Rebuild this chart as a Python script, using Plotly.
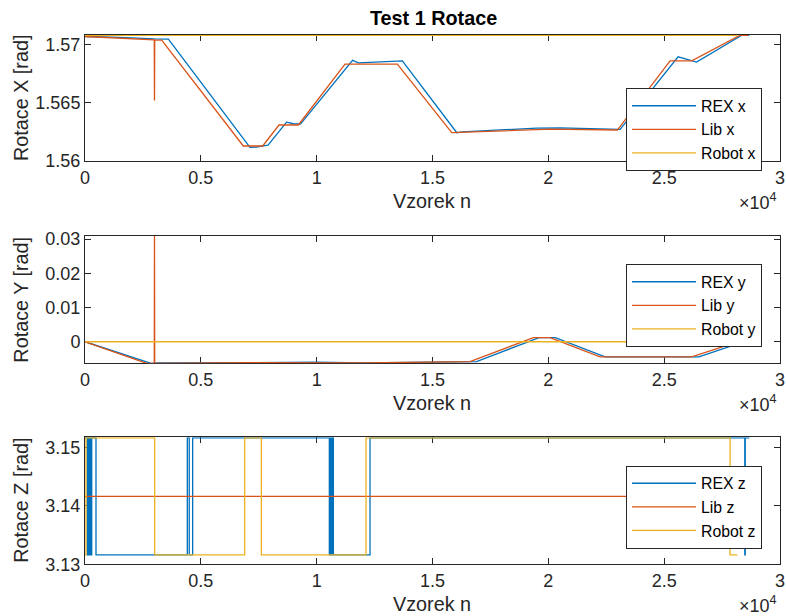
import plotly.graph_objects as go

# ---------------- data ----------------
HALF_PI = 1.5708
PI = 3.1416
Z_HI = 3.1516
Z_LO = 3.1316

# Rotace X
rex_x_n = [0, 1500, 3000, 3600, 7120, 7400, 7900, 8700, 9000, 9300, 11550, 11800, 13700,
           16050, 16300, 18000, 19500, 20500, 23100, 25600, 26400, 28350, 28676]
rex_x_v = [1.57069, 1.57062, 1.57048, 1.57046, 1.56117, 1.56120, 1.56137, 1.56334, 1.56320,
           1.56317, 1.56864, 1.56843, 1.56860, 1.56243, 1.56250, 1.56265, 1.56283, 1.56285,
           1.56272, 1.56895, 1.56850, 1.57080, 1.57080]
lib_x_n = [0, 2990, 3000, 3010, 3310, 6835, 7670, 8375, 9210, 11223, 13483, 15830,
           20075, 22980, 25255, 26190, 28275, 28620]
lib_x_v = [1.57069, 1.57040, 1.56520, 1.57040, 1.57038, 1.56129, 1.56129, 1.56309, 1.56309,
           1.56832, 1.56832, 1.56243, 1.56274, 1.56266, 1.56860, 1.56860, 1.57080, 1.57080]
rob_x_n = [0, 28158]
rob_x_v = [HALF_PI, HALF_PI]

# Rotace Y
rex_y_n = [0, 2850, 3100, 7000, 10000, 12000, 16900, 19600, 20300, 22450, 26500, 28450, 28676]
rex_y_v = [0, -0.0063, -0.0062, -0.0060, -0.0060, -0.0062, -0.0058, 0.0012, 0.0012,
           -0.0044, -0.0044, 0, 0]
lib_y_n = [0, 2660, 2990, 3000, 3010, 7000, 10000, 12000, 16620, 19353, 20075, 22233,
           26190, 28200, 28620]
lib_y_v = [0, -0.0063, -0.0063, 0.0309, -0.0063, -0.0061, -0.0061, -0.0062, -0.0058,
           0.0012, 0.0012, -0.0044, -0.0044, 0, 0]
rob_y_n = [0, 28158]
rob_y_v = [0, 0]

# Rotace Z (step data)
rex_z_n = [0, 100, 130, 160, 200, 240, 290, 475, 4417, 4500, 4648, 10547, 10600, 10650,
           10690, 10720, 12303, 28480, 28500, 28676]
rex_z_v = [Z_HI, Z_LO, Z_HI, Z_LO, Z_HI, Z_LO, Z_HI, Z_LO, Z_HI, Z_LO, Z_HI, Z_LO, Z_HI,
           Z_LO, Z_HI, Z_LO, Z_HI, Z_LO, Z_HI, Z_HI]
lib_z_n = [0, 28676]
lib_z_v = [PI, PI]
rob_z_n = [0, 43, 3008, 6893, 7612, 12130, 27845, 28158]
rob_z_v = [Z_LO, Z_HI, Z_LO, Z_HI, Z_LO, Z_HI, Z_LO, Z_LO]

x_tickvals = [0, 5000, 10000, 15000, 20000, 25000, 30000]
x_ticktext = ["0", "0.5", "1", "1.5", "2", "2.5", "3"]

# ---------------- style ----------------
C_BLUE = "#0072BD"
C_RED = "#D95319"
C_YEL = "#EDB120"
AX = "#262626"
FONT = "Liberation Sans, Arial, Helvetica, sans-serif"
FS_TICK = 18
FS_LAB = 19.8
FS_LEG = 15.8
W, H = 786, 616

def py(p):
    return 1 - p / H

def px(p):
    return p / W

panels = [
    dict(top=35, bot=161, yr=[1.56, 1.57082], yt=[1.56, 1.565, 1.57], ytt=["1.56", "1.565", "1.57"],
         ylab="Rotace X [rad]", series=[(rex_x_n, rex_x_v, "REX x", C_BLUE, "linear"),
                                        (lib_x_n, lib_x_v, "Lib x", C_RED, "linear"),
                                        (rob_x_n, rob_x_v, "Robot x", C_YEL, "linear")],
         leg_top=88),
    dict(top=236, bot=363.3, yr=[-0.0063, 0.0309], yt=[0, 0.01, 0.02, 0.03], ytt=["0", "0.01", "0.02", "0.03"],
         ylab="Rotace Y [rad]", series=[(rex_y_n, rex_y_v, "REX y", C_BLUE, "linear"),
                                        (lib_y_n, lib_y_v, "Lib y", C_RED, "linear"),
                                        (rob_y_n, rob_y_v, "Robot y", C_YEL, "linear")],
         leg_top=264),
    dict(top=437.3, bot=564.3, yr=[3.13, 3.1517], yt=[3.13, 3.14, 3.15], ytt=["3.13", "3.14", "3.15"],
         ylab="Rotace Z [rad]", series=[(rex_z_n, rex_z_v, "REX z", C_BLUE, "hv"),
                                        (lib_z_n, lib_z_v, "Lib z", C_RED, "hv"),
                                        (rob_z_n, rob_z_v, "Robot z", C_YEL, "hv")],
         leg_top=465.5),
]

fig = go.Figure()
layout = dict(
    width=W, height=H, margin=dict(l=0, r=0, t=0, b=0, autoexpand=False),
    paper_bgcolor="white", plot_bgcolor="white",
    font=dict(family=FONT, size=FS_TICK, color=AX),
    annotations=[],
)

x0p, x1p = 85, 780
for i, p in enumerate(panels, start=1):
    sx = "" if i == 1 else str(i)
    legname = "legend" if i == 1 else f"legend{i}"
    for n, v, name, col, shape in p["series"]:
        fig.add_trace(go.Scatter(
            x=n, y=v, name=name, mode="lines",
            line=dict(color=col, width=1.3, shape=shape),
            xaxis="x" + sx, yaxis="y" + sx, legend=legname,
        ))
    layout["xaxis" + sx] = dict(
        domain=[px(x0p), px(x1p)], anchor="y" + sx, range=[0, 30000],
        tickvals=x_tickvals, ticktext=x_ticktext, ticks="inside", ticklen=6,
        tickcolor=AX, showline=True, linecolor=AX, linewidth=1, mirror="ticks",
        showgrid=False, zeroline=False, layer="below traces", automargin=False,
        tickfont=dict(size=FS_TICK, color=AX),
    )
    layout["yaxis" + sx] = dict(
        domain=[py(p["bot"]), py(p["top"])], anchor="x" + sx, range=p["yr"],
        tickvals=p["yt"], ticktext=p["ytt"], ticks="inside", ticklen=6,
        tickcolor=AX, showline=True, linecolor=AX, linewidth=1, mirror="ticks",
        showgrid=False, zeroline=False, layer="below traces", automargin=False,
        tickfont=dict(size=FS_TICK, color=AX),
    )
    layout[legname] = dict(
        x=px(762), y=py(p["leg_top"]), xanchor="right", yanchor="top",
        bgcolor="white", bordercolor=AX, borderwidth=1,
        font=dict(family=FONT, size=FS_LEG, color="black"),
        itemwidth=64, tracegroupgap=0,
    )
    layout["annotations"].append(dict(
        text=p["ylab"], textangle=-90, xref="paper", yref="paper",
        x=px(21), y=py((p["top"] + p["bot"]) / 2), showarrow=False,
        xanchor="center", yanchor="middle", font=dict(size=FS_LAB, color=AX),
    ))
    layout["annotations"].append(dict(
        text="Vzorek n", xref="paper", yref="paper",
        x=px(432), y=py(p["bot"] + 40), showarrow=False,
        xanchor="center", yanchor="middle", font=dict(size=FS_LAB, color=AX),
    ))
    layout["annotations"].append(dict(
        text="×10<sup>4</sup>", xref="paper", yref="paper",
        x=px(779), y=py(p["bot"] + 40), showarrow=False,
        xanchor="right", yanchor="middle", font=dict(size=FS_TICK, color=AX),
    ))

layout["annotations"].append(dict(
    text="<b>Test 1 Rotace</b>", xref="paper", yref="paper",
    x=px(433), y=py(18), showarrow=False, xanchor="center", yanchor="middle",
    font=dict(size=FS_LAB, color="black"),
))

layout["showlegend"] = True
fig.update_layout(**layout)
fig.write_html(
    "out.html",
    config={"displayModeBar": False},
    post_script="document.body.style.margin='0';document.body.style.padding='0';document.body.style.overflow='hidden';",
)
